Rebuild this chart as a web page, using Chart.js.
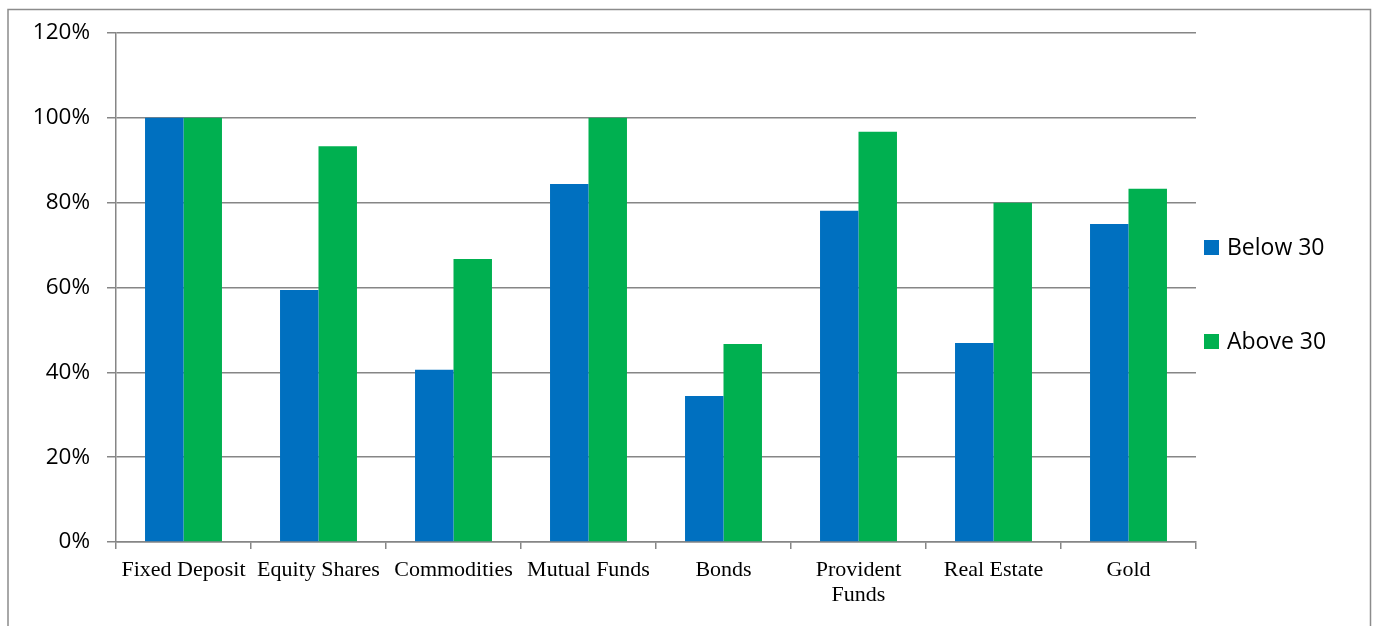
<!DOCTYPE html>
<html>
<head>
<meta charset="utf-8">
<script src="https://cdn.jsdelivr.net/npm/chart.js@4"></script>
<style>
  html, body { margin: 0; padding: 0; background: #fff; }
  #wrap { position: absolute; left: 0; top: 0; width: 1373px; height: 626px; }
</style>
</head>
<body>
<div id="wrap"><canvas id="investChart" width="1373" height="626"></canvas></div>
<script>
// === DATA ===
const categories = ["Fixed Deposit", "Equity Shares", "Commodities", "Mutual Funds", "Bonds", ["Provident", "Funds"], "Real Estate", "Gold"];
const below30 = [100, 59.4, 40.6, 84.4, 34.4, 78.1, 46.9, 75];
const above30 = [100, 93.3, 66.7, 100, 46.7, 96.7, 80, 83.3];

const GRID = "#868686";

// frame around the whole chart
const framePlugin = {
  id: "frame",
  beforeDraw(chart) {
    const ctx = chart.ctx;
    ctx.save();
    ctx.strokeStyle = "#8c8c8c";
    ctx.lineWidth = 1.5;
    ctx.strokeRect(8, 9.5, 1362.5, 700);
    ctx.restore();
  }
};

// legend on the right, one row per dataset
const sideLegend = {
  id: "sideLegend",
  afterDraw(chart) {
    const ctx = chart.ctx;
    const x = chart.chartArea.right + 8;
    const rows = [247, 341];
    ctx.save();
    ctx.font = "23px 'Open Sans'";
    ctx.textBaseline = "middle";
    chart.data.datasets.forEach((ds, i) => {
      const y = rows[i];
      ctx.fillStyle = ds.backgroundColor;
      ctx.fillRect(x, y - 7, 15, 15);
      ctx.fillStyle = "#000";
      ctx.fillText(ds.label, x + 23, y + 1);
    });
    ctx.restore();
  }
};

new Chart(document.getElementById("investChart"), {
  type: "bar",
  data: {
    labels: categories,
    datasets: [
      { label: "Below 30", data: below30, backgroundColor: "#0070C0" },
      { label: "Above 30", data: above30, backgroundColor: "#00B050" }
    ]
  },
  options: {
    responsive: false,
    animation: false,
    layout: { padding: { top: 33, right: 177, bottom: 0, left: 0 } },
    categoryPercentage: 0.57,
    barPercentage: 1.0,
    plugins: {
      tooltip: { enabled: false },
      legend: { display: false }
    },
    scales: {
      x: {
        grid: { drawOnChartArea: false, color: GRID, lineWidth: 1.5, tickLength: 7, offset: true },
        border: { color: GRID, width: 1.5 },
        ticks: {
          color: "#000",
          padding: 9,
          maxRotation: 0,
          autoSkip: false,
          font: { family: "Liberation Serif", size: 22, lineHeight: 1.14 }
        },
        afterFit(scale) { scale.height = 84; }
      },
      y: {
        min: 0,
        max: 120,
        ticks: {
          stepSize: 20,
          color: "#000",
          padding: 17,
          font: { family: "Open Sans", size: 22.5 },
          callback: v => v + "%"
        },
        grid: { color: GRID, lineWidth: 1.5, tickLength: 9 },
        border: { color: GRID, width: 1.5 },
        afterFit(scale) { scale.width = 116; }
      }
    }
  },
  plugins: [framePlugin, sideLegend]
});
</script>
</body>
</html>
